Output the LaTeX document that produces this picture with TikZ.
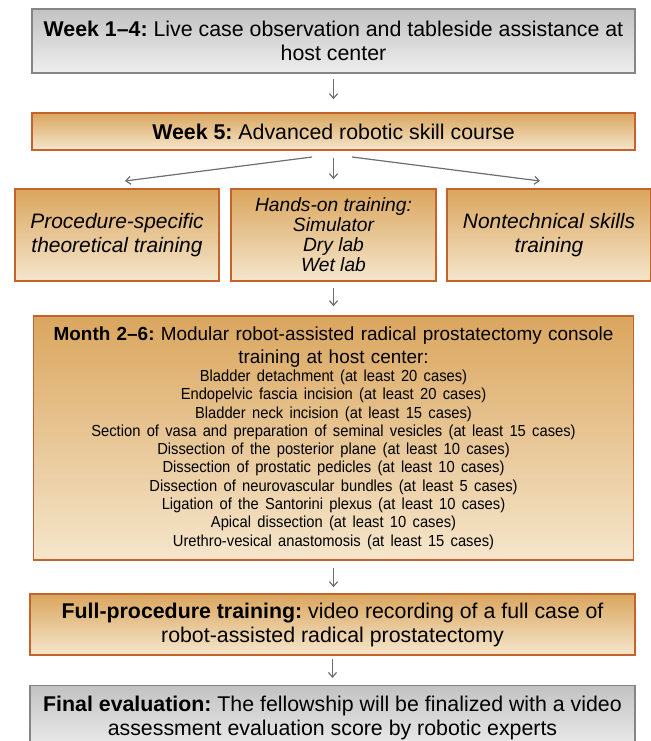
\documentclass[tikz,border=0pt]{standalone}
\usepackage{fontspec}
\setmainfont{Liberation Sans}
\newfontfamily\narrowfont[FakeStretch=0.92]{Liberation Sans}
\usetikzlibrary{arrows.meta}
\frenchspacing

\definecolor{greyedge}{HTML}{858585}
\definecolor{greytop}{HTML}{C2C2C2}
\definecolor{greybot}{HTML}{EEEEEE}
\definecolor{orangeedge}{HTML}{C4642C}
\definecolor{orangetop}{HTML}{DAA65E}
\definecolor{orangebot}{HTML}{F5E6CC}
\definecolor{arrowgrey}{HTML}{6E6E6E}

\begin{document}
\begin{tikzpicture}[x=0.75pt, y=-0.75pt,
  greybox/.style={draw=greyedge, line width=1.1pt, top color=greytop, bottom color=greybot,
    align=center, inner sep=2pt, font=\fontsize{16}{18}\selectfont},
  orangebox/.style={draw=orangeedge, line width=1.1pt, top color=orangetop, bottom color=orangebot,
    align=center, inner sep=2pt, font=\fontsize{16}{18}\selectfont},
  flow/.style={draw=arrowgrey, line width=0.9pt, -{Straight Barb[length=3.5pt,width=6pt]}}]

\useasboundingbox (0,0) rectangle (650,741);

% Week 1-4
\node[greybox, minimum width=452pt, minimum height=48pt] (weekone) at (333.5, 41)
  {\textbf{Week 1--4:} Live case observation and tableside assistance at\\ host center};

% Week 5
\node[orangebox, minimum width=452pt, minimum height=27.75pt] (weekfive) at (333.5, 131.5)
  {\textbf{Week 5:} Advanced robotic skill course};

% the three parts of the course
\node[orangebox, minimum width=153pt, minimum height=69pt, font=\fontsize{15.7}{18}\selectfont\itshape] (theory) at (117, 235)
  {Procedure-specific\\ theoretical training};
\node[orangebox, minimum width=153.75pt, minimum height=69pt, font=\fontsize{14.4}{15}\selectfont\itshape] (handson) at (333.5, 235)
  {Hands-on training:\\ Simulator\\ Dry lab\\ Wet lab};
\node[orangebox, minimum width=153pt, minimum height=69pt, font=\fontsize{15.7}{18}\selectfont\itshape] (nontech) at (549, 235)
  {Nontechnical skills\\ training};

% Month 2-6
\node[orangebox, text width=446pt, minimum height=183pt, font=\fontsize{14.2}{17.25}\selectfont] (modular) at (333.5, 438)
  {\textbf{Month 2--6:} Modular robot-assisted radical prostatectomy console\\
   training at host center:\par
   {\narrowfont\fontsize{12}{13.7}\selectfont
   Bladder detachment (at least 20 cases)\\
   Endopelvic fascia incision (at least 20 cases)\\
   Bladder neck incision (at least 15 cases)\\
   Section of vasa and preparation of seminal vesicles (at least 15 cases)\\
   Dissection of the posterior plane (at least 10 cases)\\
   Dissection of prostatic pedicles (at least 10 cases)\\
   Dissection of neurovascular bundles (at least 5 cases)\\
   Ligation of the Santorini plexus (at least 10 cases)\\
   Apical dissection (at least 10 cases)\\
   Urethro-vesical anastomosis (at least 15 cases)\par}};

% Full procedure
\node[orangebox, minimum width=453.75pt, minimum height=45.75pt] (fullcase) at (332.5, 624.5)
  {\textbf{Full-procedure training:} video recording of a full case of\\ robot-assisted radical prostatectomy};

% Final evaluation (runs off the bottom edge)
\node[greybox, anchor=north, minimum width=453.75pt, minimum height=48.75pt] (final) at (332.5, 685)
  {\textbf{Final evaluation:} The fellowship will be finalized with a video\\ assessment evaluation score by robotic experts};

% arrows
\coordinate (splitl) at (312, 157);
\coordinate (splitr) at (352, 157);
\coordinate (endl) at (125, 181);
\coordinate (endr) at (540, 181);

\draw[flow, shorten <=3.75pt, shorten >=9.75pt] (weekone) -- (weekone |- weekfive.north);
\draw[flow, shorten <=5.25pt, shorten >=6.75pt] (weekfive) -- (weekfive |- handson.north);
\draw[flow] (splitl) -- (endl);
\draw[flow] (splitr) -- (endr);
\draw[flow, shorten <=4.5pt, shorten >=6.75pt] (handson) -- (handson |- modular.north);
\draw[flow, shorten <=5.25pt, shorten >=4.5pt] (modular) -- (modular |- fullcase.north);
\draw[flow, shorten <=2.25pt, shorten >=5.25pt] (fullcase) -- (fullcase |- final.north);

\end{tikzpicture}
\end{document}
